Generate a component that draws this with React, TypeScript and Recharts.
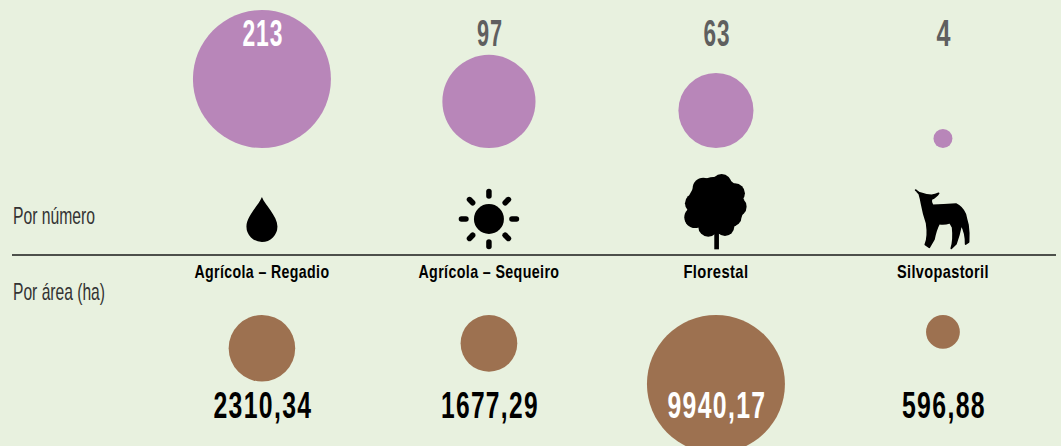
import { ReferenceLine, Scatter, ScatterChart, XAxis, YAxis, ZAxis } from 'recharts';

const categories = ['Agrícola – Regadio', 'Agrícola – Sequeiro', 'Florestal', 'Silvopastoril'];
const countValues = [213, 97, 63, 4];
const areaValues = [2310.34, 1677.29, 9940.17, 596.88];
const areaLabels = ['2310,34', '1677,29', '9940,17', '596,88'];

// the font is wider than the original one, text gets squeezed to these widths
const countWidths = [41, 26, 27, 15];
const areaWidths = [99, 98, 99, 84];
const categoryWidths = [135, 141, 65, 92];

const BG = '#e8f1df';
const PURPLE = '#b886b9';
const BROWN = '#9d7150';
const GREY = '#5f5f5f';
const INK = '#000000';
const FONT = '"Liberation Sans Narrow", "Liberation Sans", sans-serif';

const WIDTH = 1061;
const HEIGHT = 446;
const MAX_BUBBLE_AREA = (Math.PI * 138 * 138) / 4;

// y axis: 0 is the divider, bubbles stand on / hang from these two lines
const COUNT_BASE = 107;
const AREA_BASE = -60;

const countData = countValues.map((z, i) => ({ x: i, y: COUNT_BASE, z, i }));
const areaData = areaValues.map((z, i) => ({ x: i, y: AREA_BASE, z, i }));
const categoryData = categories.map((name, i) => ({ x: i, y: 0, name, i }));

const radius = (size: number) => Math.sqrt(size / Math.PI);

const CountBubble = ({ cx, cy, size, payload }: any) => {
  const r = radius(size);
  const inside = payload.z === Math.max(...countValues);
  return (
    <g>
      <circle cx={cx} cy={cy - r} r={r} fill={PURPLE} />
      <text
        x={cx + 1}
        y={cy - 102}
        textAnchor="middle"
        fontFamily={FONT}
        fontWeight={700}
        fontSize={36}
        letterSpacing={1.5}
        fill={inside ? '#ffffff' : GREY}
        textLength={countWidths[payload.i]}
        lengthAdjust="spacingAndGlyphs"
      >
        {payload.z}
      </text>
    </g>
  );
};

const AreaBubble = ({ cx, cy, size, payload }: any) => {
  const r = radius(size);
  const inside = payload.z === Math.max(...areaValues);
  return (
    <g>
      <circle cx={cx} cy={cy + r} r={r} fill={BROWN} />
      <text
        x={cx + 1}
        y={cy + 103}
        textAnchor="middle"
        fontFamily={FONT}
        fontWeight={700}
        fontSize={37}
        letterSpacing={2}
        fill={inside ? '#ffffff' : INK}
        textLength={areaWidths[payload.i]}
        lengthAdjust="spacingAndGlyphs"
      >
        {areaLabels[payload.i]}
      </text>
    </g>
  );
};

const Drop = () => (
  <path d="M0,-58 C3,-50 15.5,-39 15.5,-28.5 A15.5,15.5 0 1 1 -15.5,-28.5 C-15.5,-39 -3,-50 0,-58 Z" fill={INK} />
);

const Sun = () => (
  <g transform="translate(0,-36)">
    <circle r={15} fill={INK} />
    {[0, 45, 90, 135, 180, 225, 270, 315].map((a) => (
      <line key={a} x1={23} x2={27.5} stroke={INK} strokeWidth={5.5} strokeLinecap="round" transform={`rotate(${a})`} />
    ))}
  </g>
);

const treeLobes = [
  [228, 135, 85], [245, 72, 30], [190, 85, 32], [165, 130, 30], [165, 172, 32],
  [205, 200, 30], [255, 200, 28], [275, 170, 30], [290, 140, 30], [285, 100, 30],
];

// drawn in the 3x coordinates of the picture
const Tree = () => (
  <g transform="scale(0.3333) translate(-228,-285)" fill={INK}>
    {treeLobes.map(([x, y, r]) => (
      <circle key={`${x}-${y}`} cx={x} cy={y} r={r} />
    ))}
    <rect x={223} y={200} width={14} height={68} />
  </g>
);

const Lamb = () => (
  <g transform="scale(0.3333) translate(-129,-225)">
    <path
      d="M47,30 Q56,38 64,40 Q80,46 95,46 Q106,44 116,40 Q110,50 94,58 Q92,68 98,76 Q130,74 168,72 Q186,80 196,102 Q200,120 204,134 Q208,160 206,186 L197,192 Q198,160 184,134 Q178,165 168,192 L154,205 Q162,178 158,142 L150,128 Q130,134 118,130 Q108,148 102,178 L88,202 L76,194 Q86,170 80,130 Q70,100 65,72 Q62,55 58,42 Z"
      fill={INK}
      stroke={INK}
      strokeWidth={5}
      strokeLinejoin="round"
    />
  </g>
);

const icons = [Drop, Sun, Tree, Lamb];

const CategoryMark = ({ cx, cy, payload }: any) => {
  const Icon = icons[payload.i];
  return (
    <g>
      <g transform={`translate(${cx},${cy})`}>
        <Icon />
      </g>
      <text
        x={cx}
        y={cy + 23}
        textAnchor="middle"
        fontFamily={FONT}
        fontWeight={700}
        fontSize={19}
        letterSpacing={0.5}
        fill={INK}
        textLength={categoryWidths[payload.i]}
        lengthAdjust="spacingAndGlyphs"
      >
        {payload.name}
      </text>
    </g>
  );
};

const RowTitles = ({ viewBox }: any) => (
  <g fontFamily={FONT} fontSize={24} fill="#333333">
    <text x={viewBox.x + 1} y={viewBox.y - 31} textLength={82} lengthAdjust="spacingAndGlyphs">
      Por número
    </text>
    <text x={viewBox.x + 1} y={viewBox.y + 45} textLength={92} lengthAdjust="spacingAndGlyphs">
      Por área (ha)
    </text>
  </g>
);

export default function App() {
  return (
    <div style={{ position: 'absolute', left: 0, top: 0, width: WIDTH, height: HEIGHT, background: BG, overflow: 'hidden' }}>
      <ScatterChart width={WIDTH} height={HEIGHT} margin={{ top: 0, right: 5, bottom: 0, left: 12 }}>
        <XAxis type="number" dataKey="x" hide domain={[-1.101, 3.498]} allowDataOverflow />
        <YAxis type="number" dataKey="y" hide domain={[-191, 255]} width={0} allowDataOverflow />
        <ZAxis zAxisId="count" type="number" dataKey="z" domain={[0, 213]} range={[0, MAX_BUBBLE_AREA]} />
        <ZAxis zAxisId="area" type="number" dataKey="z" domain={[0, 9940.17]} range={[0, MAX_BUBBLE_AREA]} />
        <ReferenceLine y={0} stroke="#1a1a1a" strokeWidth={1.5} label={<RowTitles />} />
        <Scatter data={countData} zAxisId="count" shape={<CountBubble />} isAnimationActive={false} />
        <Scatter data={areaData} zAxisId="area" shape={<AreaBubble />} isAnimationActive={false} />
        <Scatter data={categoryData} zAxisId="count" shape={<CategoryMark />} isAnimationActive={false} />
      </ScatterChart>
    </div>
  );
}
